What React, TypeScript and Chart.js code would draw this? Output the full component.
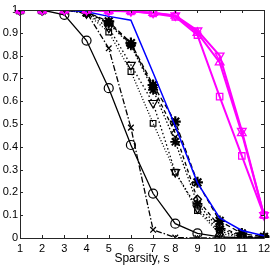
import React, { useEffect, useRef } from "react";
import { Chart, registerables } from "chart.js";

Chart.register(...registerables);

const sparsity = [1, 2, 3, 4, 5, 6, 7, 8, 9, 10, 11, 12];
const yTickLabels = ["0", "0.1", "0.2", "0.3", "0.4", "0.5", "0.6", "0.7", "0.8", "0.9", "1"];

const magTriDown = [1, 1, 1, 1, 0.997, 0.995, 0.988, 0.976, 0.91, 0.8, 0.47, 0.1];
const magTriUp = [1, 1, 1, 1, 0.997, 0.995, 0.987, 0.975, 0.9, 0.77, 0.46, 0.1];
const magSquare = [1, 1, 1, 1, 0.996, 0.994, 0.985, 0.97, 0.89, 0.62, 0.36, 0.1];
const blueLine = [1, 1, 1, 0.992, 0.972, 0.955, 0.725, 0.49, 0.242, 0.088, 0.033, 0.01];
const blackCircle = [1, 1, 0.979, 0.866, 0.657, 0.408, 0.195, 0.063, 0.02, 0.005, 0.001, 0];
const blackCross = [1, 1, 1, 0.99, 0.832, 0.484, 0.036, 0.002, 0, 0, 0, 0];
const blackStarA = [1, 1, 1, 0.99, 0.95, 0.855, 0.671, 0.51, 0.244, 0.075, 0.02, 0.005];
const blackDiamond = [1, 1, 1, 0.99, 0.945, 0.85, 0.66, 0.46, 0.17, 0.05, 0.01, 0];
const blackStarB = [1, 1, 1, 0.988, 0.94, 0.845, 0.65, 0.422, 0.15, 0.04, 0.008, 0];
const blackTriDown = [1, 1, 1, 0.985, 0.923, 0.759, 0.592, 0.289, 0.13, 0.03, 0.005, 0];
const blackSquare = [1, 1, 1, 0.985, 0.903, 0.73, 0.503, 0.289, 0.12, 0.02, 0.004, 0];

const FONT = "'Liberation Sans', Arial, sans-serif";

const boxPlugin = {
  id: "boxTicks",
  afterDatasetsDraw(chart: any) {
    const { ctx, chartArea, scales } = chart;
    const { left, right, top, bottom } = chartArea;
    ctx.save();
    ctx.strokeStyle = "#262626";
    ctx.lineWidth = 1;
    ctx.beginPath();
    ctx.rect(Math.round(left) + 0.5, Math.round(top) + 0.5, Math.round(right - left), Math.round(bottom - top));
    ctx.stroke();
    const tl = 3;
    ctx.beginPath();
    sparsity.forEach((_, i) => {
      const x = Math.round(scales.x.getPixelForValue(i)) + 0.5;
      ctx.moveTo(x, bottom);
      ctx.lineTo(x, bottom - tl);
      ctx.moveTo(x, top);
      ctx.lineTo(x, top + tl);
    });
    yTickLabels.forEach((t) => {
      const y = Math.round(scales.y.getPixelForValue(parseFloat(t))) + 0.5;
      ctx.moveTo(left, y);
      ctx.lineTo(left + tl, y);
      ctx.moveTo(right, y);
      ctx.lineTo(right - tl, y);
    });
    ctx.stroke();
    ctx.restore();
  },
};

function ds(label: string, data: number[], color: string, opts: any) {
  return {
    label,
    data,
    borderColor: color,
    backgroundColor: "rgba(0,0,0,0)",
    pointBorderColor: color,
    pointBackgroundColor: "rgba(0,0,0,0)",
    tension: 0,
    fill: false,
    ...opts,
  };
}

export default function App() {
  const ref = useRef<HTMLCanvasElement | null>(null);
  useEffect(() => {
    if (!ref.current) return;
    const datasets = [
      ds("magTriDown", magTriDown, "#ff00ff", { borderWidth: 2, pointStyle: "triangle", rotation: 180, pointRadius: 5, pointBorderWidth: 1.3 }),
      ds("magTriUp", magTriUp, "#ff00ff", { borderWidth: 2, pointStyle: "triangle", rotation: 0, pointRadius: 5, pointBorderWidth: 1.3 }),
      ds("magSquare", magSquare, "#ff00ff", { borderWidth: 2, pointStyle: "rect", pointRadius: 4.5, pointBorderWidth: 1.3 }),
      ds("blue", blueLine, "#0000ff", { borderWidth: 1.5, pointRadius: 0 }),
      ds("circle", blackCircle, "#000", { borderWidth: 1.3, pointStyle: "circle", pointRadius: 4.5, pointBorderWidth: 1.2 }),
      ds("cross", blackCross, "#000", { borderWidth: 1.3, borderDash: [6, 2, 1.5, 2], pointStyle: "crossRot", pointRadius: 4, pointBorderWidth: 1.3 }),
      ds("starA", blackStarA, "#000", { borderWidth: 1.3, borderDash: [5, 3], pointStyle: "star", pointRadius: 5.5, pointBorderWidth: 2.2 }),
      ds("diamond", blackDiamond, "#000", { borderWidth: 1.3, borderDash: [4, 3], pointStyle: "rectRot", pointRadius: 4, pointBorderWidth: 1.3 }),
      ds("starB", blackStarB, "#000", { borderWidth: 1.3, borderDash: [1.5, 2], pointStyle: "star", pointRadius: 5, pointBorderWidth: 1.8 }),
      ds("triDown", blackTriDown, "#000", { borderWidth: 1.3, borderDash: [1.5, 2.5], pointStyle: "triangle", rotation: 180, pointRadius: 5, pointBorderWidth: 1.2 }),
      ds("square", blackSquare, "#000", { borderWidth: 1.3, borderDash: [1, 2], pointStyle: "rect", pointRadius: 4, pointBorderWidth: 1.2 }),
    ];
    const chart = new Chart(ref.current, {
      type: "line",
      data: { labels: sparsity.map(String), datasets },
      options: {
        animation: false,
        responsive: false,
        devicePixelRatio: 1,
        plugins: { legend: { display: false }, tooltip: { enabled: false } },
        layout: { padding: { top: 10, right: 8, left: 0, bottom: 0 } },
        scales: {
          x: {
            grid: { display: false, drawTicks: false },
            border: { display: false },
            ticks: { padding: 4, color: "#000", font: { family: FONT, size: 11 }, maxRotation: 0, autoSkip: false },
            title: { display: true, text: "Sparsity, s", color: "#000", font: { family: FONT, size: 12 }, padding: { top: 0, bottom: 7 } },
            afterFit: (s: any) => { s.height = 35; s.paddingLeft = 0; s.paddingRight = 0; },
          },
          y: {
            min: 0,
            max: 1,
            grid: { display: false, drawTicks: false },
            border: { display: false },
            ticks: {
              stepSize: 0.1,
              padding: 2,
              color: "#000",
              font: { family: FONT, size: 11 },
              callback: (v: any) => {
                const i = Math.round(Number(v) * 10);
                return yTickLabels[i] ?? "";
              },
            },
            afterFit: (s: any) => { s.width = 20; s.paddingTop = 0; s.paddingBottom = 0; },
          },
        },
      },
      plugins: [boxPlugin],
    });
    return () => chart.destroy();
  }, []);
  return (
    <div style={{ position: "absolute", left: 0, top: 0, width: 272, height: 273, background: "#fff" }}>
      <canvas ref={ref} width={272} height={273} style={{ display: "block" }} />
    </div>
  );
}
